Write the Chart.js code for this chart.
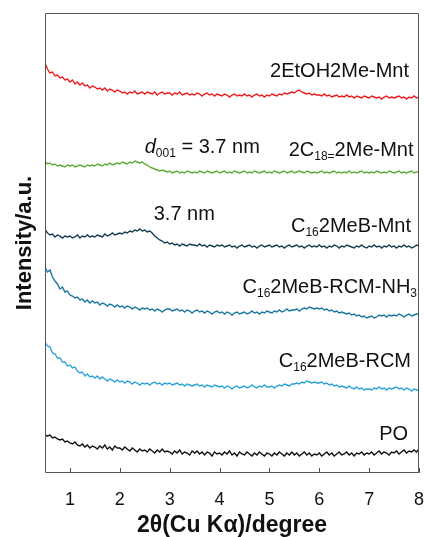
<!DOCTYPE html>
<html>
<head>
<meta charset="utf-8">
<script src="https://cdn.jsdelivr.net/npm/chart.js@4/dist/chart.umd.min.js"></script>
<style>
  html, body { margin: 0; padding: 0; background: #fff; }
  #divXRD { width: 424px; height: 537px; position: relative; }
</style>
</head>
<body>
<div id="divXRD"><canvas id="xrdCanvas"></canvas></div>
<script>
// 2theta sampling: 0.5 .. 8.0 deg, step 0.05 (151 points)
const thetaStart = 0.5;
const thetaStep = 0.05;
const xTicks = [1, 2, 3, 4, 5, 6, 7, 8];

// intensities (a.u., stacked offsets already included)
const ethoh2me = [
  410, 404, 400, 401, 397, 398, 395, 396, 393, 394,
  391, 393, 389, 391, 388, 390, 387, 388, 385, 387,
  386, 384, 385, 383, 385, 382, 384, 383, 381, 383,
  382, 380, 381, 379, 381, 380, 382, 379, 380, 381,
  379, 381, 380, 379, 381, 378, 380, 381, 379, 380,
  380, 378, 380, 379, 381, 378, 379, 380, 378, 379,
  378, 380, 379, 377, 379, 380, 378, 379, 377, 379,
  378, 377, 379, 378, 376, 378, 379, 377, 378, 377,
  379, 377, 378, 376, 378, 379, 377, 378, 376, 378,
  377, 379, 378, 377, 379, 378, 380, 379, 380, 381,
  380, 382, 383, 381, 380, 379, 380, 378, 379, 378,
  378, 377, 379, 377, 378, 376, 377, 378, 376, 377,
  376, 378, 376, 377, 375, 377, 376, 375, 377, 376,
  375, 377, 376, 375, 376, 374, 376, 377, 375, 376,
  375, 376, 377, 375, 376, 374, 376, 375, 377, 375,
  376
];
const c18Mnt = [
  312, 309, 310, 308, 309, 307, 308, 307, 306, 308,
  307, 308, 306, 307, 308, 307, 306, 308, 307, 308,
  307, 309, 308, 307, 309, 308, 310, 308, 309, 310,
  309, 311, 310, 309, 311, 310, 312, 311, 310, 311,
  309, 308, 306, 305, 304, 303, 302, 303, 302, 301,
  302, 300, 301, 302, 300, 301, 300, 302, 301, 300,
  301, 300, 302, 301, 300, 302, 301, 300, 301, 302,
  300, 301, 302, 300, 301, 300, 302, 301, 300, 301,
  302, 300, 301, 300, 302, 301, 300, 301, 302, 300,
  301, 300, 302, 301, 300, 301, 302, 300, 301, 302,
  300, 301, 302, 301, 300, 302, 301, 300, 301, 300,
  301, 302, 300, 301, 300, 301, 302, 300, 301, 300,
  301, 300, 302, 300, 301, 300, 301, 302, 300, 301,
  300, 301, 300, 302, 301, 300, 301, 300, 302, 301,
  300, 301, 302, 300, 301, 300, 301, 302, 300, 301,
  301
];
const c16Mnt = [
  244, 240, 238, 239, 236, 238, 237, 235, 237, 236,
  237, 235, 236, 238, 235, 237, 236, 238, 236, 237,
  236, 238, 237, 236, 239, 237, 238, 240, 238, 239,
  240, 239, 241, 240, 242, 241, 243, 242, 244, 242,
  243, 241, 242, 240, 237, 235, 233, 232, 230, 231,
  229, 230, 228, 229, 227, 229, 228, 227, 229, 228,
  228, 227, 229, 227, 228, 226, 228, 227, 226, 228,
  227, 228, 226, 227, 228, 226, 227, 225, 227, 228,
  226, 227, 228, 226, 227, 225, 227, 228, 226, 227,
  228, 226, 227, 228, 226, 227, 225, 227, 228, 226,
  227, 228, 226, 227, 225, 227, 228, 226, 227, 226,
  228, 226, 227, 225, 227, 226, 228, 227, 225, 227,
  226, 228, 227, 226, 225, 227, 226, 228, 226, 225,
  227, 226, 228, 226, 227, 225, 227, 226, 228, 226,
  227, 225, 227, 226, 228, 226, 227, 225, 226, 228,
  227
];
const rcmNH3 = [
  206, 201, 203, 196, 192, 189, 184, 186, 181, 182,
  178, 177, 175, 176, 173, 174, 171, 173, 170, 172,
  170, 171, 168, 170, 169, 167, 169, 168, 166, 168,
  166, 167, 165, 167, 166, 164, 166, 165, 163, 165,
  164, 165, 163, 164, 162, 164, 163, 161, 163, 164,
  164, 162, 163, 164, 162, 163, 161, 163, 162, 160,
  162, 163, 161, 162, 160, 162, 161, 159, 161, 162,
  160, 161, 159, 161, 160, 158, 160, 161, 159, 160,
  161, 159, 160, 162, 160, 161, 159, 161, 160, 162,
  161, 160, 162, 161, 163, 161, 162, 164, 162, 163,
  163, 164, 162, 164, 165, 164, 166, 165, 164, 165,
  164, 165, 163, 164, 162, 163, 161, 162, 160, 161,
  160, 159, 160, 158, 159, 157, 158, 156, 157, 155,
  156, 157, 155, 156, 158, 157, 158, 156, 158, 157,
  158, 157, 159, 158, 156, 158, 159, 157, 158, 159,
  159
];
const rcm = [
  131, 127, 126, 120, 119, 115, 115, 111, 111, 107,
  108, 105, 106, 102, 100, 101, 97, 99, 96, 97,
  95, 97, 94, 96, 94, 92, 94, 93, 91, 93,
  91, 92, 90, 92, 91, 89, 91, 90, 88, 90,
  89, 90, 88, 90, 91, 89, 90, 88, 90, 89,
  90, 88, 89, 90, 88, 89, 87, 89, 88, 87,
  88, 89, 87, 88, 86, 88, 87, 86, 88, 87,
  86, 87, 85, 87, 86, 84, 86, 87, 85, 86,
  87, 85, 86, 88, 86, 85, 87, 86, 88, 86,
  86, 87, 85, 87, 88, 87, 89, 88, 87, 89,
  89, 90, 89, 91, 90, 92, 91, 90, 91, 90,
  90, 91, 89, 90, 88, 89, 87, 88, 86, 87,
  86, 85, 87, 85, 84, 86, 84, 85, 83, 84,
  84, 83, 85, 84, 86, 84, 85, 83, 85, 84,
  85, 86, 84, 85, 83, 85, 84, 82, 84, 83,
  83
];
const po = [
  38, 37, 38, 35, 36, 34, 33, 34, 31, 32,
  30, 29, 31, 28, 27, 29, 26, 28, 25, 27,
  26, 24, 27, 25, 28, 24, 26, 23, 27, 25,
  25, 23, 26, 24, 22, 25, 23, 21, 24, 22,
  23, 21, 24, 22, 20, 23, 21, 24, 21, 22,
  21, 19, 22, 20, 23, 19, 21, 20, 18, 22,
  20, 22, 19, 21, 18, 21, 20, 17, 21, 19,
  20, 18, 21, 19, 22, 18, 20, 17, 21, 19,
  18, 21, 19, 17, 20, 18, 21, 19, 17, 20,
  19, 17, 20, 18, 21, 19, 17, 20, 18, 21,
  18, 20, 17, 19, 21, 18, 20, 17, 19, 18,
  20, 17, 19, 21, 18, 20, 17, 19, 21, 18,
  19, 21, 18, 20, 17, 20, 19, 21, 18, 20,
  19, 21, 18, 20, 22, 19, 21, 20, 18, 21,
  20, 22, 19, 21, 23, 20, 22, 21, 23, 21,
  24
];

const seriesNames = ["2EtOH2Me-Mnt", "2C18=2Me-Mnt", "C162MeB-Mnt", "C162MeB-RCM-NH3", "C162MeB-RCM", "PO"];
const seriesData = [ethoh2me, c18Mnt, c16Mnt, rcmNH3, rcm, po];
const seriesColors = ["#ee1d1d", "#5fae3a", "#183c50", "#1b77a0", "#2ba3d8", "#111111"];

// curve labels: [text, style] pieces, style "" normal, "i" italic, "s" subscript
const curveLabels = [
  { parts: [["2EtOH2Me-Mnt", ""]], x: 7.8, y: 396, align: "right" },
  { parts: [["2C", ""], ["18=", "s"], ["2Me-Mnt", ""]], x: 7.89, y: 317, align: "right" },
  { parts: [["d", "i"], ["001", "s"], [" = 3.7 nm", ""]], x: 2.5, y: 320, align: "left" },
  { parts: [["3.7 nm", ""]], x: 2.68, y: 253, align: "left" },
  { parts: [["C", ""], ["16", "s"], ["2MeB-Mnt", ""]], x: 7.84, y: 241, align: "right" },
  { parts: [["C", ""], ["16", "s"], ["2MeB-RCM-NH", ""], ["3", "s"]], x: 7.96, y: 180, align: "right" },
  { parts: [["C", ""], ["16", "s"], ["2MeB-RCM", ""]], x: 7.84, y: 106, align: "right" },
  { parts: [["PO", ""]], x: 7.78, y: 33, align: "right" },
];

const FONT = "'Liberation Sans', Arial, sans-serif";

function pieceFont(style) {
  if (style === "s") return "12px " + FONT;
  if (style === "i") return "italic 20px " + FONT;
  return "20px " + FONT;
}

function drawRich(ctx, lab, xs, ys) {
  let px = xs.getPixelForValue(lab.x);
  const py = ys.getPixelForValue(lab.y);
  // measure first so right aligned labels end at the anchor
  let total = 0;
  lab.parts.forEach((p) => { ctx.font = pieceFont(p[1]); total += ctx.measureText(p[0]).width; });
  if (lab.align === "right") px -= total;
  ctx.fillStyle = "#111";
  ctx.textAlign = "left";
  ctx.textBaseline = "alphabetic";
  lab.parts.forEach((p) => {
    ctx.font = pieceFont(p[1]);
    ctx.fillText(p[0], px, py + (p[1] === "s" ? 4 : 0));
    px += ctx.measureText(p[0]).width;
  });
}

// frame, inward ticks and curve labels
const overlayPlugin = {
  id: "overlay",
  afterDraw(chart) {
    const ctx = chart.ctx;
    const area = chart.chartArea;
    const xs = chart.scales.x;
    const ys = chart.scales.y;
    ctx.save();
    ctx.strokeStyle = "#555";
    ctx.lineWidth = 1;
    ctx.beginPath();
    ctx.rect(area.left + 0.5, area.top + 0.5, area.right - area.left - 1, area.bottom - area.top - 1);
    xTicks.forEach((v) => {
      const tx = Math.round(xs.getPixelForValue(v)) + 0.5;
      ctx.moveTo(tx, area.bottom);
      ctx.lineTo(tx, area.bottom - 5);
    });
    ctx.stroke();
    curveLabels.forEach((lab) => drawRich(ctx, lab, xs, ys));
    ctx.restore();
  }
};

const canvas = document.getElementById("xrdCanvas");
new Chart(canvas, {
  type: "line",
  data: {
    datasets: seriesData.map((vals, k) => ({
      label: seriesNames[k],
      data: vals.map((v, i) => ({ x: thetaStart + i * thetaStep, y: v })),
      borderColor: seriesColors[k],
      borderWidth: 1.4,
      pointRadius: 0,
      tension: 0,
      fill: false,
    })),
  },
  options: {
    responsive: true,
    maintainAspectRatio: false,
    animation: false,
    layout: { padding: { top: 13, right: 5, left: 0, bottom: 0 } },
    plugins: { legend: { display: false }, tooltip: { enabled: false } },
    scales: {
      x: {
        type: "linear",
        min: 0.5,
        max: 8,
        afterBuildTicks: (scale) => { scale.ticks = xTicks.map((v) => ({ value: v })); },
        afterFit: (scale) => {
          scale.height = 64;
          // no extra side room for the end tick labels
          scale.paddingLeft = 0;
          scale.paddingRight = 0;
        },
        grid: { display: false, drawTicks: false },
        border: { display: false },
        ticks: { color: "#111", font: { family: FONT, size: 18 }, padding: 16, maxRotation: 0, autoSkip: false },
        title: {
          display: true,
          text: "2θ(Cu Kα)/degree",
          color: "#111",
          font: { family: FONT, size: 23, weight: "bold", lineHeight: 1 },
          padding: { top: 0, bottom: 0 },
        },
      },
      y: {
        min: 0,
        max: 460,
        afterFit: (scale) => { scale.width = 45; },
        grid: { display: false, drawTicks: false },
        border: { display: false },
        ticks: { display: false },
        title: {
          display: true,
          text: "Intensity/a.u.",
          color: "#111",
          font: { family: FONT, size: 22, weight: "bold", lineHeight: 1.2 },
          padding: { top: 12, bottom: 0 },
        },
      },
    },
  },
  plugins: [overlayPlugin],
});
</script>
</body>
</html>
